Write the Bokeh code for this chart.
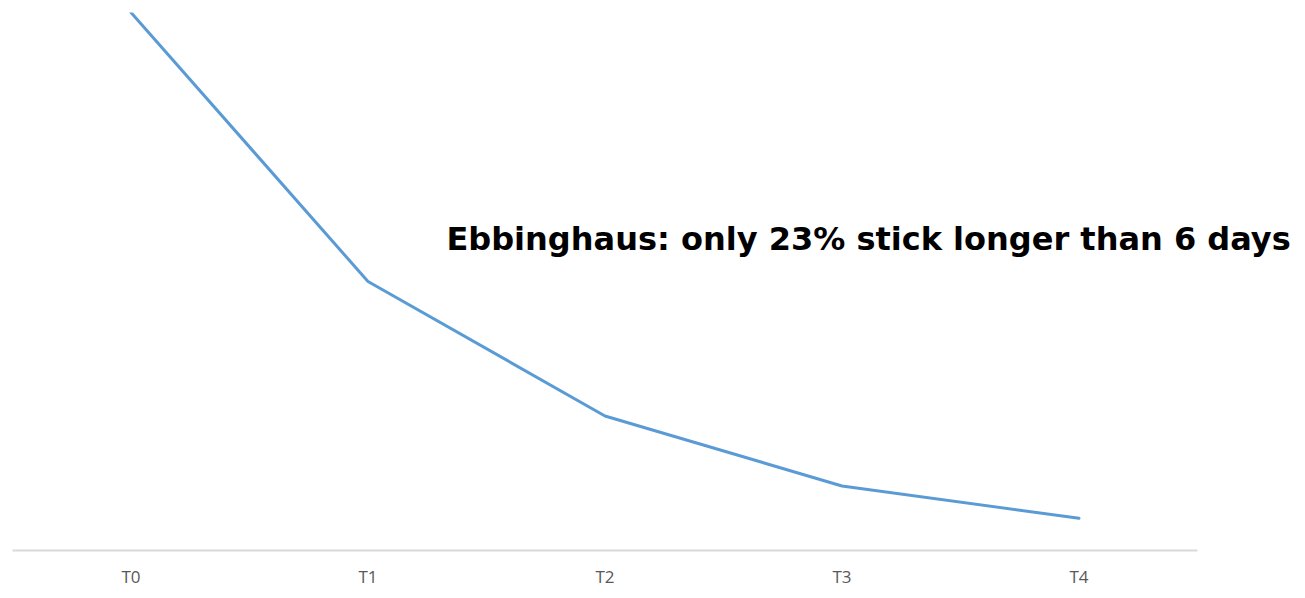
from bokeh.plotting import figure
from bokeh.models import Label, Range1d, FixedTicker
from bokeh.embed import file_html
from bokeh.resources import INLINE

categories = ["T0", "T1", "T2", "T3", "T4"]
retention = [100, 50, 25, 12, 6]
annotation = "Ebbinghaus: only 23% stick longer than 6 days"

positions = list(range(len(categories)))

p = figure(width=1297, height=590, x_range=Range1d(-0.5, 4.922),
           y_range=Range1d(0, 100), output_backend="svg", toolbar_location=None,
           min_border_left=12, min_border_right=0, min_border_top=12, min_border_bottom=30)
p.outline_line_color = None
p.xgrid.grid_line_color = None
p.ygrid.grid_line_color = None
p.yaxis.visible = False

p.line(positions, retention, line_color="#5B9BD5", line_width=3, line_cap="round")

ax = p.xaxis[0]
ax.ticker = FixedTicker(ticks=positions)
ax.major_label_overrides = {i: c for i, c in zip(positions, categories)}
ax.bounds = (-0.5, 4.5)
ax.axis_line_color = "#D9D9D9"
ax.axis_line_width = 2
ax.major_tick_line_color = None
ax.minor_tick_line_color = None
ax.major_tick_out = 0
ax.major_tick_in = 0
ax.minor_tick_out = 0
ax.minor_tick_in = 0
ax.major_label_text_font = "Open Sans"
ax.major_label_text_font_size = "17px"
ax.major_label_text_color = "#595959"
ax.major_label_standoff = 14

p.add_layout(Label(x=1.331, y=57.9, text=annotation, text_font="DejaVu Sans",
                   text_font_style="bold", text_font_size="32px", text_color="black",
                   text_baseline="alphabetic"))

open("out.html", "w").write(file_html(p, INLINE))
